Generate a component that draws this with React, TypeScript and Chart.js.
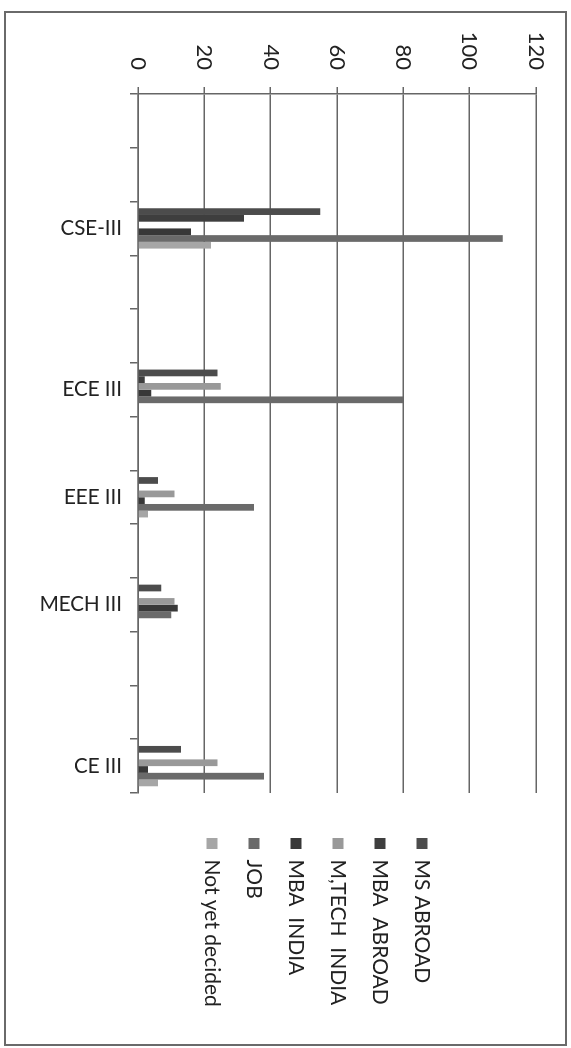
import React, { useEffect, useRef } from 'react';
import { Chart, registerables } from 'chart.js';

Chart.register(...registerables);

// 13 category slots on the axis; only five carry a label and bars
const categories = ['', '', 'CSE-III', '', '', 'ECE III', '', 'EEE III', '', 'MECH III', '', '', 'CE III'];

const msAbroad = [null, null, 55, null, null, 24, null, 6, null, 7, null, null, 13];
const mbaAbroad = [null, null, 32, null, null, 2, null, 0, null, 0, null, null, 0];
const mtechIndia = [null, null, 0, null, null, 25, null, 11, null, 11, null, null, 24];
const mbaIndia = [null, null, 16, null, null, 4, null, 2, null, 12, null, null, 3];
const job = [null, null, 110, null, null, 80, null, 35, null, 10, null, null, 38];
const notYetDecided = [null, null, 22, null, null, 0, null, 3, null, 0, null, null, 6];

const seriesNames = ['MS ABROAD', 'MBA  ABROAD', 'M,TECH  INDIA', 'MBA  INDIA', 'JOB', 'Not yet decided'];
const seriesValues = [msAbroad, mbaAbroad, mtechIndia, mbaIndia, job, notYetDecided];
const seriesColors = ['#4c4c4c', '#3e3e3e', '#999999', '#383838', '#6a6a6a', '#a6a6a6'];

const valueMin = 0;
const valueMax = 120;
const valueStep = 20;

const CW = 1033;
const CH = 561;

export default function App() {
  const ref = useRef<HTMLCanvasElement | null>(null);

  useEffect(() => {
    if (!ref.current) return;
    Chart.defaults.font.family = 'Lato';
    const chart = new Chart(ref.current, {
      type: 'bar',
      data: {
        labels: categories,
        datasets: seriesNames.map((name, i) => ({
          label: name,
          data: seriesValues[i],
          backgroundColor: seriesColors[i],
          borderWidth: 0,
          categoryPercentage: 0.75,
          barPercentage: 1.0,
        })),
      },
      options: {
        responsive: false,
        animation: false,
        devicePixelRatio: 1,
        layout: { padding: { top: 28, bottom: 20, left: 0, right: 38 } },
        plugins: {
          tooltip: { enabled: false },
          legend: {
            position: 'right',
            align: 'start',
            maxWidth: 190,
            title: {
              display: true,
              text: ' ',
              font: { size: 10, family: 'Lato' },
              padding: { top: 0, bottom: 72.5 },
            },
            labels: {
              boxWidth: 11,
              boxHeight: 11,
              padding: 21,
              color: '#222',
              font: { size: 21, family: 'Lato' },
            },
          },
        },
        scales: {
          x: {
            position: 'bottom',
            offset: true,
            grid: {
              drawOnChartArea: false,
              drawTicks: true,
              tickLength: 8,
              color: '#666',
              lineWidth: 1.5,
              offset: true,
            },
            border: { display: true, color: '#666', width: 1.5 },
            ticks: {
              autoSkip: false,
              maxRotation: 90,
              minRotation: 90,
              padding: 8,
              color: '#222',
              font: { size: 20.5, family: 'Lato' },
            },
            afterFit: (s: any) => {
              s.height = 113;
            },
          },
          y: {
            position: 'left',
            min: valueMin,
            max: valueMax,
            grid: { color: '#666', lineWidth: 1.5, tickLength: 7 },
            border: { display: true, color: '#666', width: 1.5 },
            ticks: {
              stepSize: valueStep,
              padding: 17,
              color: '#222',
              font: { size: 22, family: 'Lato' },
            },
            afterFit: (s: any) => {
              s.width = 82;
            },
          },
          gap: {
            type: 'linear',
            position: 'right',
            display: true,
            grid: { display: false, drawTicks: false },
            border: { display: false },
            ticks: { display: false },
            afterFit: (s: any) => {
              s.width = 24;
            },
          },
        },
      } as any,
    });
    return () => chart.destroy();
  }, []);

  return (
    <div
      style={{
        position: 'fixed',
        left: 0,
        top: 0,
        width: 571,
        height: 1048,
        overflow: 'hidden',
        background: '#fff',
      }}
    >
      <div
        style={{
          position: 'absolute',
          left: 0,
          top: 0,
          width: 1048,
          height: 571,
          transformOrigin: '0 0',
          transform: 'translate(571px, 0px) rotate(90deg)',
        }}
      >
        <div
          style={{
            position: 'absolute',
            left: 12,
            top: 5,
            width: CW,
            height: CH,
            outline: '2px solid #6a6a6a',
            outlineOffset: -1,
          }}
        >
          <canvas ref={ref} width={CW} height={CH} style={{ width: CW, height: CH, display: 'block' }} />
        </div>
      </div>
    </div>
  );
}
